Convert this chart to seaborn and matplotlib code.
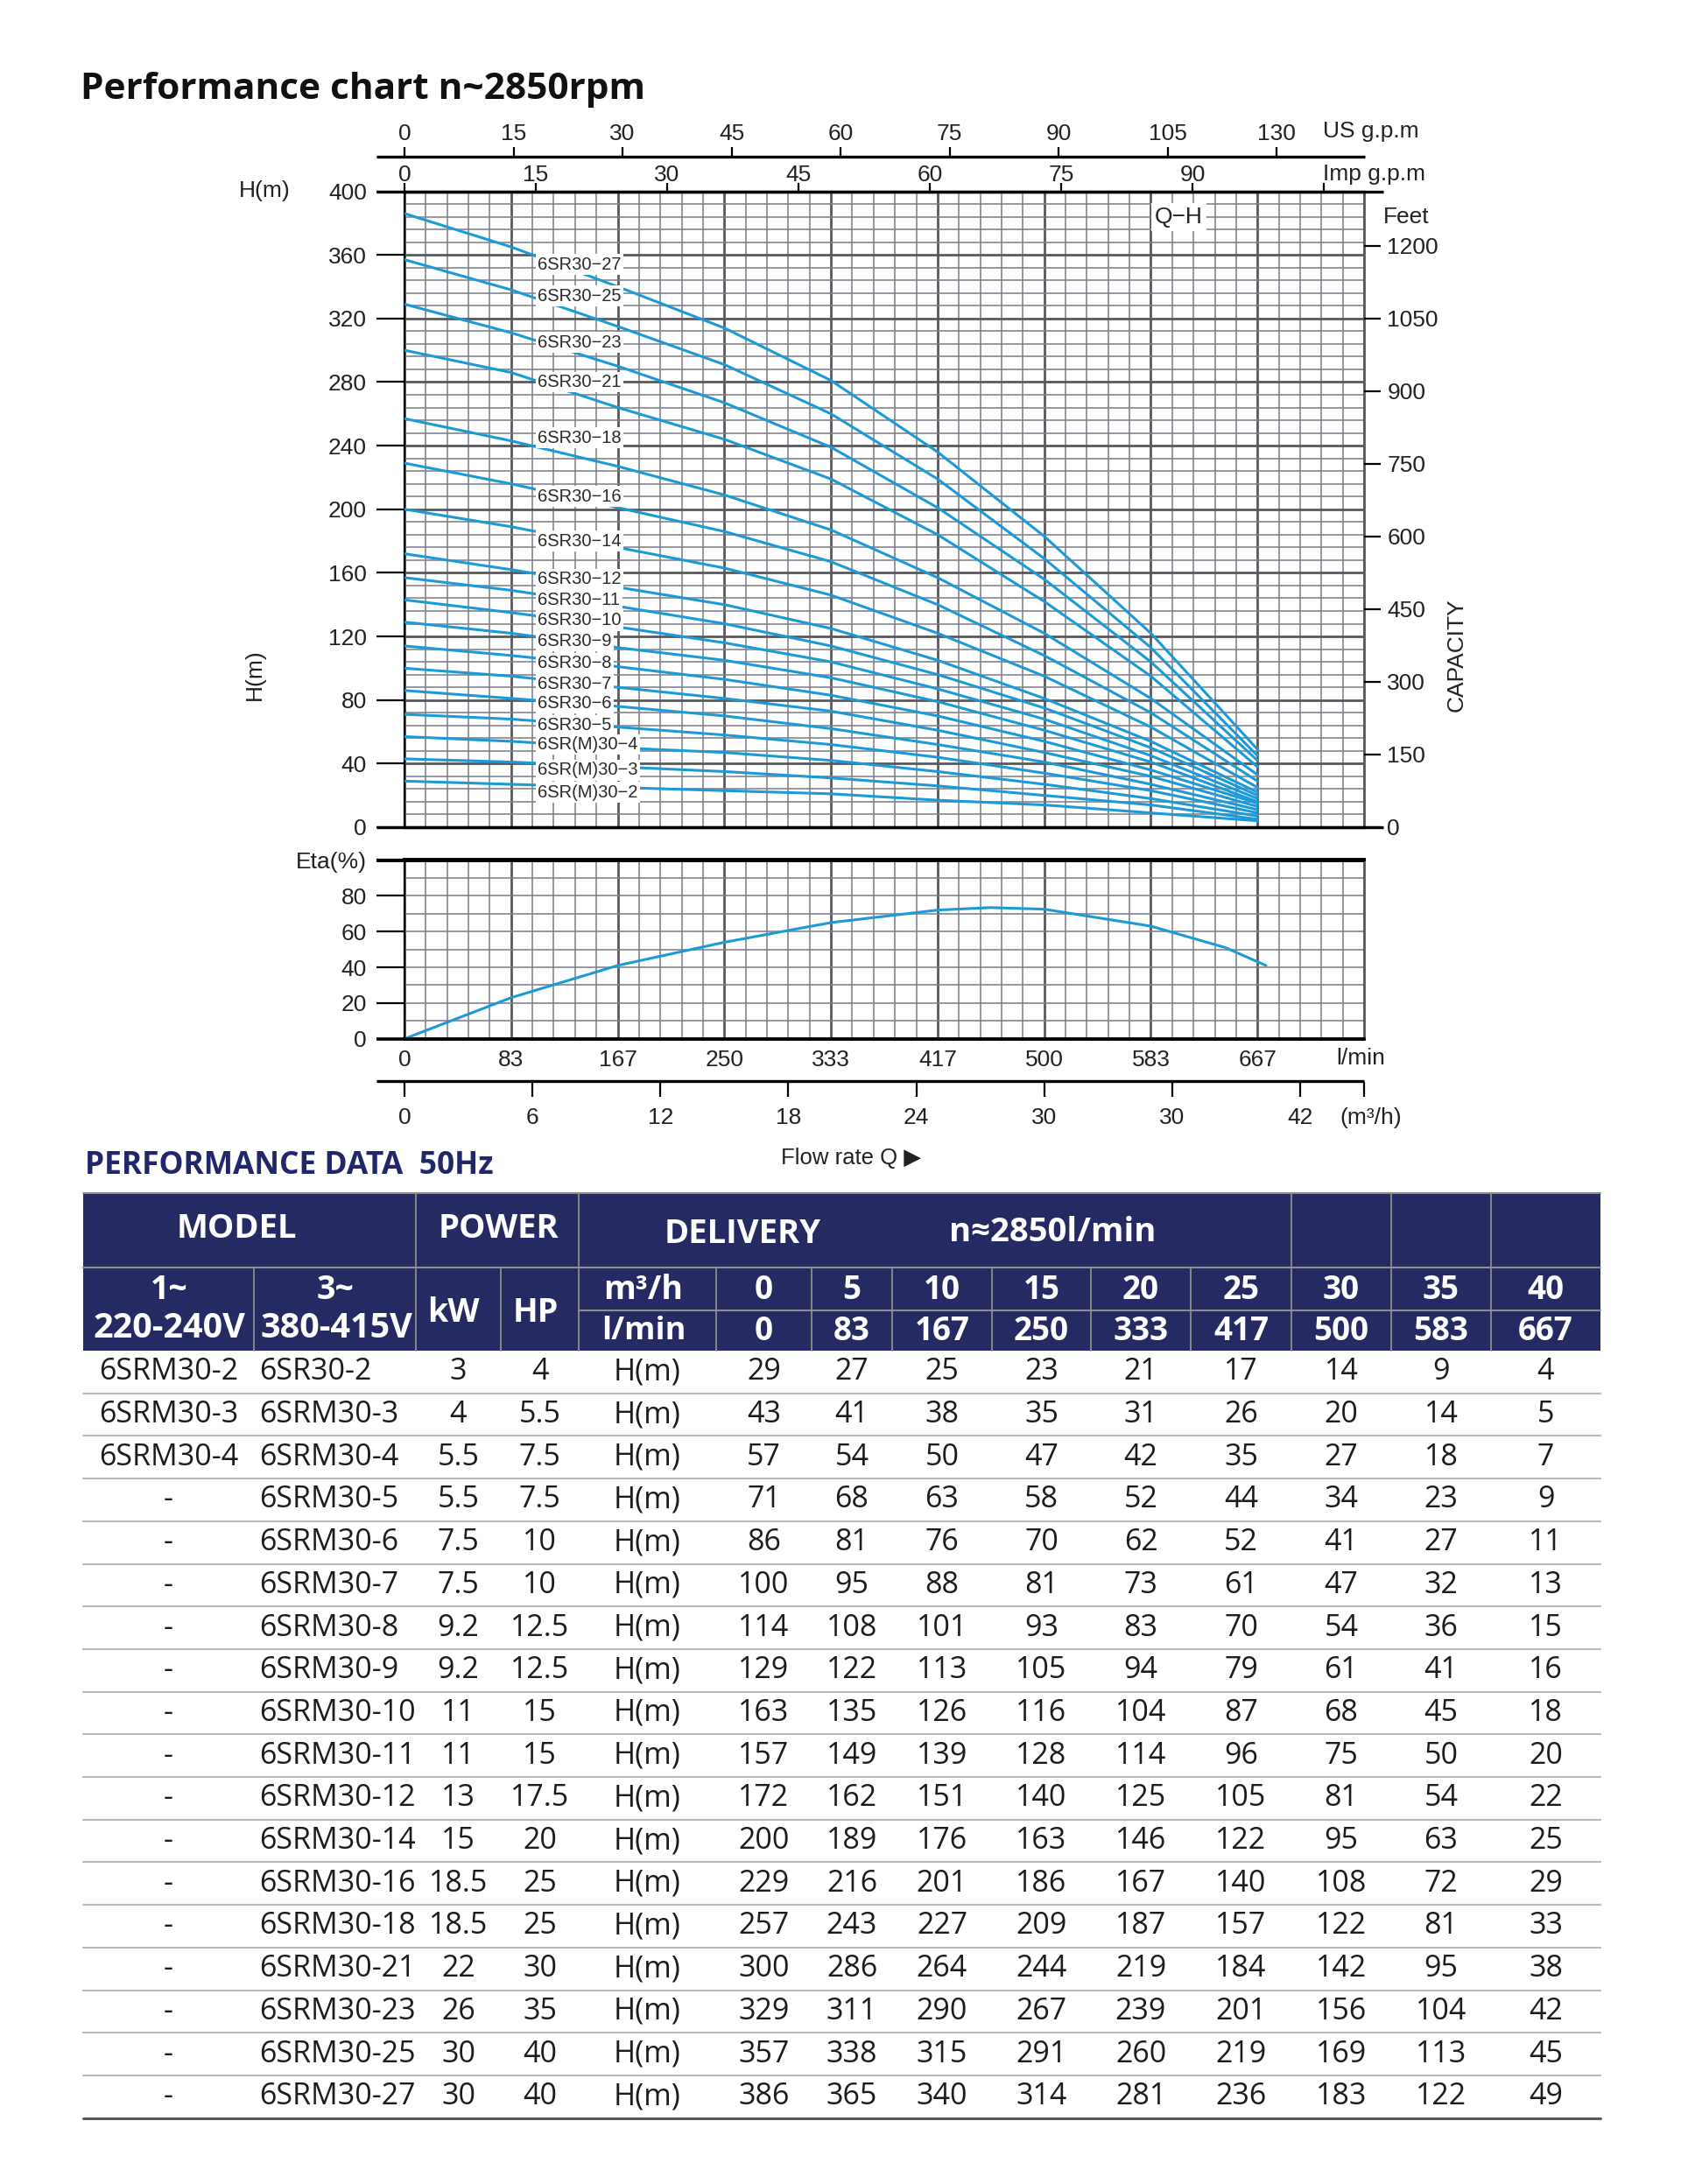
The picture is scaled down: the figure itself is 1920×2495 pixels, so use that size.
import numpy as np
import pandas as pd
import matplotlib
matplotlib.use("Agg")
import matplotlib.pyplot as plt
from matplotlib.ticker import MultipleLocator
from matplotlib.patches import Rectangle
import seaborn as sns

# ---- values ----
flow_m3h = [0, 5, 10, 15, 20, 25, 30, 35, 40]
flow_lmin = ["0", "83", "167", "250", "333", "417", "500", "583", "667"]
stages = [2, 3, 4, 5, 6, 7, 8, 9, 10, 11, 12, 14, 16, 18, 21, 23, 25, 27]
model_1ph = ["6SRM30-2", "6SRM30-3", "6SRM30-4"] + ["-"] * 15
model_3ph = ["6SR30-2", "6SRM30-3", "6SRM30-4", "6SRM30-5", "6SRM30-6", "6SRM30-7",
             "6SRM30-8", "6SRM30-9", "6SRM30-10", "6SRM30-11", "6SRM30-12", "6SRM30-14",
             "6SRM30-16", "6SRM30-18", "6SRM30-21", "6SRM30-23", "6SRM30-25", "6SRM30-27"]
power_kw = ["3", "4", "5.5", "5.5", "7.5", "7.5", "9.2", "9.2", "11", "11", "13", "15",
            "18.5", "18.5", "22", "26", "30", "30"]
power_hp = ["4", "5.5", "7.5", "7.5", "10", "10", "12.5", "12.5", "15", "15", "17.5", "20",
            "25", "25", "30", "35", "40", "40"]
head_m = [
    [29, 27, 25, 23, 21, 17, 14, 9, 4],
    [43, 41, 38, 35, 31, 26, 20, 14, 5],
    [57, 54, 50, 47, 42, 35, 27, 18, 7],
    [71, 68, 63, 58, 52, 44, 34, 23, 9],
    [86, 81, 76, 70, 62, 52, 41, 27, 11],
    [100, 95, 88, 81, 73, 61, 47, 32, 13],
    [114, 108, 101, 93, 83, 70, 54, 36, 15],
    [129, 122, 113, 105, 94, 79, 61, 41, 16],
    [163, 135, 126, 116, 104, 87, 68, 45, 18],
    [157, 149, 139, 128, 114, 96, 75, 50, 20],
    [172, 162, 151, 140, 125, 105, 81, 54, 22],
    [200, 189, 176, 163, 146, 122, 95, 63, 25],
    [229, 216, 201, 186, 167, 140, 108, 72, 29],
    [257, 243, 227, 209, 187, 157, 122, 81, 33],
    [300, 286, 264, 244, 219, 184, 142, 95, 38],
    [329, 311, 290, 267, 239, 201, 156, 104, 42],
    [357, 338, 315, 291, 260, 219, 169, 113, 45],
    [386, 365, 340, 314, 281, 236, 183, 122, 49],
]
# the chart draws 6SR30-10 from 143 m at zero flow (the table prints 163)
curve_shutoff_fix = {10: 143}

eta_flow = [0, 2.5, 5, 10, 15, 20, 25, 27.5, 30, 35, 38.5, 40.4]
eta_pct = [0, 11.5, 23, 41, 54, 65, 72, 73.4, 72.5, 63, 51, 41]

# where the curve names sit (head in m)
label_head = [22, 36, 52, 64, 78, 90, 103, 117, 130, 143, 156, 180, 208, 245, 280, 305, 334, 354]

us_gpm_ticks = [0, 15, 30, 45, 60, 75, 90, 105, 120]
us_gpm_labels = ["0", "15", "30", "45", "60", "75", "90", "105", "130"]
imp_gpm_ticks = [0, 15, 30, 45, 60, 75, 90, 105]
imp_gpm_labels = ["0", "15", "30", "45", "60", "75", "90", ""]
m3h_ticks = [0, 6, 12, 18, 24, 30, 36, 42, 45]
m3h_labels = ["0", "6", "12", "18", "24", "30", "30", "42", ""]
feet_ticks = [0, 150, 300, 450, 600, 750, 900, 1050, 1200]
eta_ticks = [0, 20, 40, 60, 80, 100]
eta_labels = ["0", "20", "40", "60", "80", "Eta(%)"]

# ---- style ----
sns.set_theme(style="white")
plt.rcParams["font.family"] = ["Liberation Sans", "DejaVu Sans"]
BLUE = "#1c9ad8"
GMAJ = "#58585e"
GMIN = "#80808a"
TXT = "#222222"
FS = 19

W, H = 1920, 2495


def fbox(x0, y0, x1, y1):
    return [x0 / W, 1 - y1 / H, (x1 - x0) / W, (y1 - y0) / H]


fig = plt.figure(figsize=(19.2, 24.95), dpi=100)

# ---- Q-H chart ----
ax = fig.add_axes(fbox(462, 218.5, 1558, 945))
rows = []
for n, heads in zip(stages, head_m):
    hs = list(heads)
    if n in curve_shutoff_fix:
        hs[0] = curve_shutoff_fix[n]
    for q, h in zip(flow_m3h, hs):
        rows.append((n, q, h))
curves = pd.DataFrame(rows, columns=["stages", "q", "h"])
sns.lineplot(data=curves, x="q", y="h", units="stages", estimator=None, color=BLUE,
             lw=2.2, ax=ax, legend=False, zorder=3)
ax.set_xlabel("")
ax.set_ylabel("")
ax.set_xlim(0, 45)
ax.set_ylim(0, 400)
ax.xaxis.set_major_locator(MultipleLocator(5))
ax.xaxis.set_minor_locator(MultipleLocator(1))
ax.yaxis.set_major_locator(MultipleLocator(40))
ax.yaxis.set_minor_locator(MultipleLocator(8))
ax.grid(which="major", color=GMAJ, lw=2.0)
ax.grid(which="minor", color=GMIN, lw=1.15)
ax.tick_params(axis="x", which="both", bottom=False, labelbottom=False, length=0)
ax.tick_params(axis="y", which="minor", left=False, length=0)
ax.tick_params(axis="y", which="major", left=True, direction="out", length=23, width=1.6,
               color="black", pad=8, labelsize=FS, labelcolor=TXT)
for side, lw, col in [("left", 1.6, "black"), ("bottom", 2.4, "black"),
                      ("top", 2.4, "black"), ("right", 2.0, GMAJ)]:
    ax.spines[side].set_visible(True)
    ax.spines[side].set_linewidth(lw)
    ax.spines[side].set_color(col)

for name_n, yh in zip(stages, label_head):
    name = f"6SR(M)30\u2212{name_n}" if name_n <= 4 else f"6SR30\u2212{name_n}"
    ax.text(6.25, yh, name, ha="left", va="center", fontsize=14.5, color="#2a2a2a", zorder=5,
            bbox=dict(boxstyle="square,pad=0.12", fc="white", ec="none"))
ax.text(36.3, 384, "Q\u2212H", ha="center", va="center", fontsize=FS, color=TXT, zorder=5,
        bbox=dict(boxstyle="square,pad=0.15", fc="white", ec="none"))

# feet scale on the right
axr = ax.twinx()
axr.set_ylim(0, 400 * 3.28084)
axr.set_yticks(feet_ticks)
axr.grid(False)
for s in axr.spines.values():
    s.set_visible(False)
axr.tick_params(axis="y", right=True, direction="out", length=14, width=1.6, color="black",
                pad=5, labelsize=FS, labelcolor=TXT)

# Imp g.p.m scale on the top edge
axi = ax.twiny()
axi.set_xlim(0, 109.6)
axi.set_xticks(imp_gpm_ticks)
axi.set_xticklabels(imp_gpm_labels)
axi.grid(False)
for s in axi.spines.values():
    s.set_visible(False)
axi.tick_params(axis="x", top=True, direction="out", length=7, width=1.6, color="black",
                pad=-2, labelsize=FS, labelcolor=TXT)

# US g.p.m scale above
axu = fig.add_axes(fbox(462, 179.3, 1558, 180.3))
axu.set_xlim(0, 132)
axu.set_xticks(us_gpm_ticks)
axu.set_xticklabels(us_gpm_labels)
axu.set_yticks([])
axu.set_facecolor("none")
for s in axu.spines.values():
    s.set_visible(False)
axu.xaxis.tick_top()
axu.tick_params(axis="x", top=True, bottom=False, direction="out", length=8, width=1.6,
                color="black", pad=2.5, labelsize=FS, labelcolor=TXT)

# ---- efficiency chart ----
axe = fig.add_axes(fbox(462, 982.5, 1558, 1186.7))
sns.lineplot(x=eta_flow, y=eta_pct, color=BLUE, lw=2.2, ax=axe, zorder=3)
axe.set_xlim(0, 45)
axe.set_ylim(0, 100)
axe.set_xticks(flow_m3h)
axe.set_xticklabels(flow_lmin)
axe.xaxis.set_minor_locator(MultipleLocator(1))
axe.set_yticks(eta_ticks)
axe.set_yticklabels(eta_labels)
axe.yaxis.set_minor_locator(MultipleLocator(10))
axe.xaxis.grid(which="major", color=GMAJ, lw=2.0)
axe.xaxis.grid(which="minor", color=GMIN, lw=1.15)
axe.yaxis.grid(which="both", color=GMIN, lw=1.15)
axe.tick_params(axis="x", which="both", bottom=False, length=0, pad=9, labelsize=FS,
                labelcolor=TXT)
axe.tick_params(axis="y", which="minor", left=False, length=0)
axe.tick_params(axis="y", which="major", left=True, direction="out", length=23, width=1.6,
                color="black", pad=8, labelsize=FS, labelcolor=TXT)
for side, lw, col in [("left", 1.6, "black"), ("bottom", 2.6, "black"),
                      ("top", 2.8, "black"), ("right", 2.0, GMAJ)]:
    axe.spines[side].set_visible(True)
    axe.spines[side].set_linewidth(lw)
    axe.spines[side].set_color(col)

# m3/h scale below
axm = fig.add_axes(fbox(462, 1235, 1558, 1236))
axm.set_xlim(0, 45)
axm.set_xticks(m3h_ticks)
axm.set_xticklabels(m3h_labels)
axm.set_yticks([])
axm.set_facecolor("none")
for s in axm.spines.values():
    s.set_visible(False)
axm.tick_params(axis="x", bottom=True, direction="out", length=12, width=1.6, color="black",
                pad=9, labelsize=FS, labelcolor=TXT)

# ---- overlay in pixel coordinates: rules, captions, table ----
axt = fig.add_axes([0, 0, 1, 1], zorder=10)
axt.set_xlim(0, W)
axt.set_ylim(H, 0)
axt.axis("off")

for x0, x1, y, lw in [(430, 1559, 179.3, 2.4), (430, 1580, 218.5, 2.4), (430, 1580, 945, 2.4),
                      (430, 1558, 982.5, 2.8), (430, 1558, 1186.7, 2.6), (430, 1558, 1235, 2.4)]:
    axt.plot([x0, x1], [y, y], color="black", lw=lw, solid_capstyle="butt")

axt.text(92, 113, "Performance chart n~2850rpm", fontsize=30.5, fontweight="bold",
         family=["Open Sans", "DejaVu Sans"], color="#111111", va="baseline", ha="left")
axt.text(302, 218, "H(m)", fontsize=FS, color=TXT, ha="center", va="center")
axt.text(291, 771, "H(m)", fontsize=FS, color=TXT, ha="center", va="center", rotation=90)
axt.text(1511, 150, "US g.p.m", fontsize=FS, color=TXT, ha="left", va="center")
axt.text(1511, 199, "Imp g.p.m", fontsize=FS, color=TXT, ha="left", va="center")
axt.text(1580, 248, "Feet", fontsize=FS, color=TXT, ha="left", va="center")
axt.text(1664, 748, "CAPACITY", fontsize=FS, color=TXT, ha="center", va="center", rotation=90)
axt.text(1554, 1209, "l/min", fontsize=FS, color=TXT, ha="center", va="center")
axt.text(1566, 1277, "(m\u00b3/h)", fontsize=FS, color=TXT, ha="center", va="center")
axt.text(972, 1323, "Flow rate Q \u25b6", fontsize=18.5, color=TXT, ha="center", va="center")

# table
NAVY = "#262a62"
SEP = "#8e8e8e"
TF = ["Open Sans", "DejaVu Sans"]
tx = [95, 290, 475, 572, 661, 818, 927, 1019, 1133, 1246, 1360, 1475, 1589, 1703, 1828]
y_head, y_r2, y_r3, y_body, row_h = 1363, 1448, 1497, 1543, 48.7

axt.text(97, 1332, "PERFORMANCE DATA  50Hz", fontsize=25.5, fontweight="bold", family=TF,
         color="#22276a", ha="left", va="center")
axt.add_patch(Rectangle((tx[0], y_head), tx[-1] - tx[0], y_body - y_head, fc=NAVY, ec="none"))
axt.plot([tx[0], tx[-1]], [y_head, y_head], color=SEP, lw=1.5)
axt.plot([tx[0], tx[-1]], [y_r2, y_r2], color=SEP, lw=1.5)
axt.plot([tx[4], tx[-1]], [y_r3, y_r3], color=SEP, lw=1.5)
for k in [2, 4, 11, 12, 13]:
    axt.plot([tx[k], tx[k]], [y_head, y_body], color=SEP, lw=1.3)
for k in [1, 3, 5, 6, 7, 8, 9, 10]:
    axt.plot([tx[k], tx[k]], [y_r2, y_body], color=SEP, lw=1.3)

hd = dict(color="white", fontweight="bold", family=TF, ha="center", va="center")
axt.text(270, 1404, "MODEL", fontsize=27.5, **hd)
axt.text(570, 1404, "POWER", fontsize=27.5, **hd)
axt.text(848, 1410, "DELIVERY", fontsize=27.5, **hd)
axt.text(1202, 1408, "n\u22482850l/min", fontsize=27.5, **hd)
axt.text(193, 1474, "1~", fontsize=27, **hd)
axt.text(383, 1474, "3~", fontsize=27, **hd)
axt.text(193, 1518, "220-240V", fontsize=28.5, **hd)
axt.text(384, 1518, "380-415V", fontsize=28.5, **hd)
axt.text(518, 1500, "kW", fontsize=27, **hd)
axt.text(612, 1500, "HP", fontsize=27, **hd)
axt.text(735, 1474, "m\u00b3/h", fontsize=27, **hd)
axt.text(735, 1521, "l/min", fontsize=26, **hd)
val_x = [(tx[k] + tx[k + 1]) / 2 for k in range(5, 14)]
for xc, q, lm in zip(val_x, flow_m3h, flow_lmin):
    axt.text(xc, 1474, str(q), fontsize=26.5, **hd)
    axt.text(xc, 1521, lm, fontsize=26.5, **hd)

bd = dict(color="#1c1c1c", family=TF, va="center", fontsize=24.5)
for i in range(len(stages)):
    yc = y_body + row_h * (i + 0.5)
    axt.text((tx[0] + tx[1]) / 2, yc, model_1ph[i], ha="center", **bd)
    axt.text(296, yc, model_3ph[i], ha="left", **bd)
    axt.text((tx[2] + tx[3]) / 2, yc, power_kw[i], ha="center", **bd)
    axt.text((tx[3] + tx[4]) / 2, yc, power_hp[i], ha="center", **bd)
    axt.text((tx[4] + tx[5]) / 2, yc, "H(m)", ha="center", **bd)
    for xc, h in zip(val_x, head_m[i]):
        axt.text(xc, yc, str(h), ha="center", **bd)
    yl = y_body + row_h * (i + 1)
    last = i == len(stages) - 1
    axt.plot([tx[0], tx[-1]], [yl, yl], color="#5a5a5a" if last else "#b9b9b9",
             lw=2.2 if last else 1.5)

fig.savefig("out.png", dpi=100, facecolor="white")
